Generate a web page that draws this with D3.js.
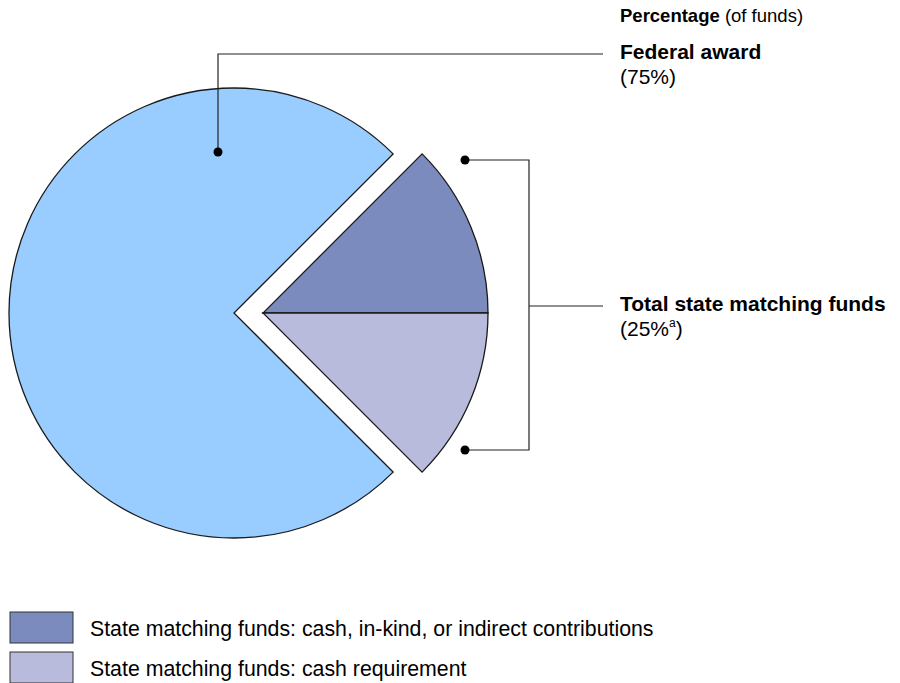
<!DOCTYPE html>
<html lang="en">
<head>
<meta charset="UTF-8">
<title>Federal award and state matching funds</title>
<script src="https://cdn.jsdelivr.net/npm/d3@7"></script>
<style>
  body { margin: 0; background: #fff; }
  svg { display: block; font-family: "Liberation Sans", Arial, sans-serif; }
</style>
</head>
<body>
<script>
    const w = 900
    const h = 683

    // slices, in drawing order starting at the upper right diagonal
    const sliceNames = ["State matching funds: cash, in-kind, or indirect contributions", "State matching funds: cash requirement", "Federal award"]
    const sliceValues = [12.5, 12.5, 75]
    const sliceColors = ["#7b8bbd", "#b8bbdb", "#99ccff"]
    const exploded = [true, true, false]

    const legendNames = sliceNames.slice(0, 2)
    const legendColors = sliceColors.slice(0, 2)

    const cx = 234, cy = 313, r = 225, pull = 29

    const svg = d3.select("body").append("svg").attr("width", w).attr("height", h)

    const pie = d3.pie().sort(null).startAngle(Math.PI / 4).endAngle(Math.PI / 4 + 2 * Math.PI)
    const arcs = pie(sliceValues)
    const arc = d3.arc().innerRadius(0).outerRadius(r)

    // state slices are pulled out along the middle of the two together
    const stateMid = (arcs[0].startAngle + arcs[1].endAngle) / 2
    const dx = pull * Math.sin(stateMid), dy = -pull * Math.cos(stateMid)

    svg.append("g")
        .attr("transform", `translate(${cx},${cy})`)
        .selectAll("path")
        .data(arcs)
        .enter()
        .append("path")
        .attr("d", arc)
        .attr("transform", (d, i) => exploded[i] ? `translate(${dx},${dy})` : null)
        .attr("fill", (d, i) => sliceColors[i])
        .attr("stroke", "#1a1a1a")
        .attr("stroke-width", 1.3)
        .attr("stroke-linejoin", "miter")

    const lineColor = "#222"

    // Federal leader line
    const fedDot = [218, 152]
    svg.append("path")
        .attr("d", `M${fedDot[0]},${fedDot[1]} V54 H603`)
        .attr("fill", "none").attr("stroke", lineColor).attr("stroke-width", 1.2)
    svg.append("circle").attr("cx", fedDot[0]).attr("cy", fedDot[1]).attr("r", 4.5).attr("fill", "#000")

    // State bracket
    const brTop = 160, brBot = 450, bx = 529
    svg.append("path")
        .attr("d", `M465,${brTop} H${bx} V${brBot} H465 M${bx},306 H603`)
        .attr("fill", "none").attr("stroke", lineColor).attr("stroke-width", 1.2)
    svg.selectAll("circle.br").data([brTop, brBot]).enter().append("circle")
        .attr("class", "br").attr("cx", 465).attr("cy", d => d).attr("r", 4.5).attr("fill", "#000")

    // labels
    const head = svg.append("text").attr("x", 620).attr("y", 22).attr("font-size", 18.5).attr("fill", "#000")
    head.append("tspan").attr("font-weight", "bold").text("Percentage")
    head.append("tspan").text(" (of funds)")

    svg.append("text").attr("x", 620).attr("y", 59).attr("font-size", 21).attr("font-weight", "bold").text("Federal award")
    svg.append("text").attr("x", 620).attr("y", 84).attr("font-size", 21).text(`(${sliceValues[2]}%)`)

    svg.append("text").attr("x", 620).attr("y", 311).attr("font-size", 21).attr("font-weight", "bold").text("Total state matching funds")
    const st = svg.append("text").attr("x", 620).attr("y", 336).attr("font-size", 21)
    st.append("tspan").text(`(${sliceValues[0] + sliceValues[1]}%`)
    st.append("tspan").attr("font-size", 12).attr("dy", -9).text("a")
    st.append("tspan").attr("dy", 9).text(")")

    // legend
    const legend = svg.append("g").selectAll("g").data(legendNames).enter().append("g")
        .attr("transform", (d, i) => `translate(10,${612 + i * 40})`)
    legend.append("rect").attr("width", 63).attr("height", 31)
        .attr("fill", (d, i) => legendColors[i]).attr("stroke", "#333").attr("stroke-width", 1)
    legend.append("text").attr("x", 80).attr("y", 24).attr("font-size", 21.3).text(d => d)
</script>
</body>
</html>
